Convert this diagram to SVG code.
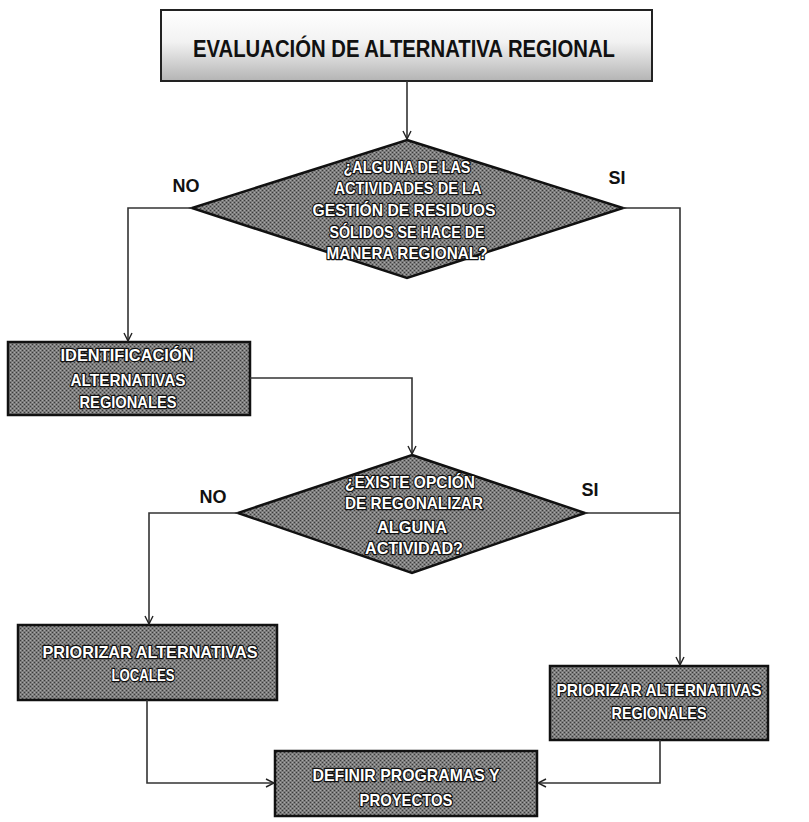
<svg xmlns="http://www.w3.org/2000/svg" width="809" height="822" viewBox="0 0 809 822">
<defs>
<linearGradient id="titleFill" x1="0" y1="0" x2="0" y2="1">
<stop offset="0" stop-color="#ffffff"/>
<stop offset="0.45" stop-color="#f2f2f2"/>
<stop offset="1" stop-color="#b4b4b4"/>
</linearGradient>
<pattern id="dither" width="4" height="4" patternUnits="userSpaceOnUse">
<rect width="4" height="4" fill="#7c7c7c"/>
<rect width="1" height="1" fill="#3c3c3c"/>
<rect x="2" y="2" width="1" height="1" fill="#3c3c3c"/>
<rect x="2" y="0" width="1" height="1" fill="#a8a8a8"/>
<rect x="0" y="2" width="1" height="1" fill="#a8a8a8"/>
</pattern>
<marker id="arr" viewBox="0 0 10 10" refX="9" refY="5" markerWidth="10" markerHeight="10" markerUnits="userSpaceOnUse" orient="auto">
<path d="M1,1 L9,5 L1,9" fill="none" stroke="#222" stroke-width="1.4"/>
</marker>
</defs>
<style>
.box{fill:url(#dither);stroke:#111;stroke-width:2.5}
.title{fill:url(#titleFill);stroke:#222;stroke-width:2}
.wt{font-family:"Liberation Sans",Arial,sans-serif;font-weight:bold;font-size:17px;fill:#fff;stroke:#111;stroke-width:2.6;paint-order:stroke;stroke-linejoin:round;text-anchor:middle}
.bt{font-family:"Liberation Sans",Arial,sans-serif;font-weight:bold;fill:#111;text-anchor:middle}
.ln{fill:none;stroke:#333;stroke-width:1.6}
</style>
<rect width="809" height="822" fill="#fff"/>

<g id="n-evaluacion">
<rect class="title" x="161" y="10" width="491" height="71"/>
<text class="bt" x="404" y="57" font-size="24" textLength="422" lengthAdjust="spacingAndGlyphs">EVALUACIÓN DE ALTERNATIVA REGIONAL</text>
</g>

<g id="n-decision1">
<polygon class="box" points="407,140 623,208 407,278 192,208"/>
<text class="wt" x="407" y="173" textLength="127" lengthAdjust="spacingAndGlyphs">¿ALGUNA DE LAS</text>
<text class="wt" x="408" y="194" textLength="147" lengthAdjust="spacingAndGlyphs">ACTIVIDADES DE LA</text>
<text class="wt" x="404" y="216" textLength="183" lengthAdjust="spacingAndGlyphs">GESTIÓN DE RESIDUOS</text>
<text class="wt" x="407" y="238" textLength="155" lengthAdjust="spacingAndGlyphs">SÓLIDOS SE HACE DE</text>
<text class="wt" x="407" y="259" textLength="161" lengthAdjust="spacingAndGlyphs">MANERA REGIONAL?</text>
</g>

<g id="n-identificacion">
<rect class="box" x="8" y="342" width="242" height="73"/>
<text class="wt" x="127" y="361" textLength="133" lengthAdjust="spacingAndGlyphs">IDENTIFICACIÓN</text>
<text class="wt" x="128" y="386" textLength="115" lengthAdjust="spacingAndGlyphs">ALTERNATIVAS</text>
<text class="wt" x="128" y="408" textLength="97" lengthAdjust="spacingAndGlyphs">REGIONALES</text>
</g>

<g id="n-decision2">
<polygon class="box" points="412,455 585,513 412,573 238,513"/>
<text class="wt" x="410" y="488" textLength="130" lengthAdjust="spacingAndGlyphs">¿EXISTE OPCIÓN</text>
<text class="wt" x="414" y="509" textLength="138" lengthAdjust="spacingAndGlyphs">DE REGONALIZAR</text>
<text class="wt" x="412" y="533" textLength="70" lengthAdjust="spacingAndGlyphs">ALGUNA</text>
<text class="wt" x="414" y="554" textLength="98" lengthAdjust="spacingAndGlyphs">ACTIVIDAD?</text>
</g>

<g id="n-locales">
<rect class="box" x="18" y="625" width="259" height="75"/>
<text class="wt" x="150" y="658" textLength="215" lengthAdjust="spacingAndGlyphs">PRIORIZAR ALTERNATIVAS</text>
<text class="wt" x="143" y="681" textLength="63" lengthAdjust="spacingAndGlyphs">LOCALES</text>
</g>

<g id="n-regionales">
<rect class="box" x="550" y="666" width="218" height="74"/>
<text class="wt" x="659" y="696" textLength="205" lengthAdjust="spacingAndGlyphs">PRIORIZAR ALTERNATIVAS</text>
<text class="wt" x="659" y="719" textLength="95" lengthAdjust="spacingAndGlyphs">REGIONALES</text>
</g>

<g id="n-definir">
<rect class="box" x="275" y="751" width="262" height="65"/>
<text class="wt" x="406" y="781" textLength="187" lengthAdjust="spacingAndGlyphs">DEFINIR PROGRAMAS Y</text>
<text class="wt" x="406" y="806" textLength="93" lengthAdjust="spacingAndGlyphs">PROYECTOS</text>
</g>

<g id="connectors">
<path class="ln" d="M407,81 V139" marker-end="url(#arr)"/>
<path class="ln" d="M192,208 H128 V341" marker-end="url(#arr)"/>
<path class="ln" d="M623,208 H680 V665" marker-end="url(#arr)"/>
<path class="ln" d="M250,378 H412 V454" marker-end="url(#arr)"/>
<path class="ln" d="M238,513 H149 V624" marker-end="url(#arr)"/>
<path class="ln" d="M585,513 H680"/>
<path class="ln" d="M147,700 V783 H274" marker-end="url(#arr)"/>
<path class="ln" d="M660,740 V783 H538" marker-end="url(#arr)"/>
<text class="bt" x="186" y="192" font-size="18">NO</text>
<text class="bt" x="617" y="184" font-size="18">SI</text>
<text class="bt" x="213" y="503" font-size="18">NO</text>
<text class="bt" x="590" y="496" font-size="18">SI</text>
</g>
</svg>
